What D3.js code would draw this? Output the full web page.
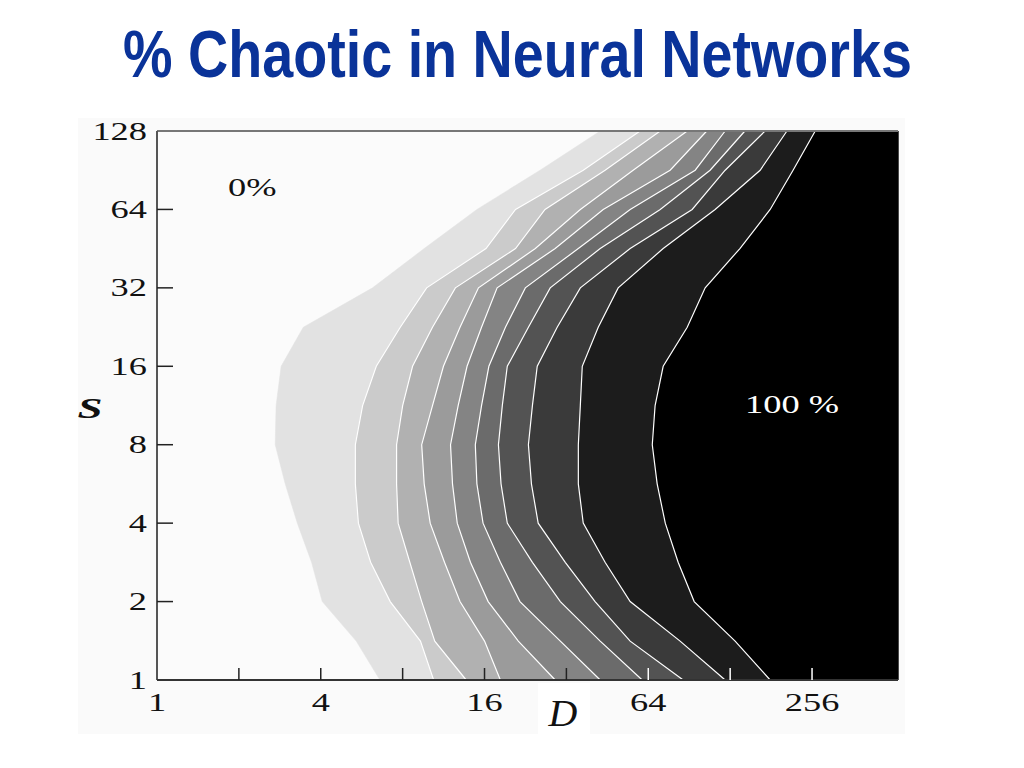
<!DOCTYPE html>
<html><head><meta charset="utf-8">
<script src="https://cdn.jsdelivr.net/npm/d3@7"></script>
<style>body{margin:0;background:#fff}</style>
</head><body>
<svg id="c" width="1024" height="768"></svg>
<script>
const title = "% Chaotic in Neural Networks";
// S values along which each contour's D position is read
const sLevels = [1, 1.41, 2, 2.83, 4, 5.66, 8, 11.3, 16, 22.6, 32, 45.3, 64, 90.5, 128];
// D position of each contour (10% .. 100% chaotic) at the S values above
const level10  = [6.6, 5.4, 4.05, 3.7, 3.28, 2.96, 2.72, 2.74, 2.86, 3.45, 6.2, 9.6, 15.0, 25.6, 42.6];
const level20  = [10.4, 9.3, 7.2, 6.1, 5.5, 5.36, 5.36, 5.7, 6.4, 7.84, 9.8, 16.2, 20.8, 36.9, 59.7];
const level30  = [13.7, 10.5, 9.4, 8.5, 7.7, 7.6, 7.6, 8.0, 8.7, 10.3, 12.5, 20.8, 26.7, 44.4, 70.8];
const level40  = [18.3, 16.0, 13.0, 11.4, 10.1, 9.6, 9.4, 10.3, 11.3, 13.0, 15.2, 24.6, 36.0, 56.3, 89.0];
const level50  = [29.1, 21.3, 16.5, 14.2, 12.7, 12.2, 12.0, 12.8, 13.8, 15.6, 17.8, 29.1, 43.7, 77.0, 105];
const level60  = [42.6, 30.4, 21.6, 18.3, 15.8, 15.0, 14.8, 15.6, 16.6, 19.1, 22.6, 35.4, 54.9, 95.2, 122.7];
const level70  = [60.8, 42.6, 30.4, 24.0, 19.4, 18.4, 18.0, 18.6, 19.4, 23.2, 27.9, 42.6, 70.8, 108, 145];
const level80  = [86.0, 54.9, 40.8, 31.7, 25.2, 23.8, 23.2, 24.0, 25.0, 29.6, 36.0, 54.9, 92.8, 122.7, 172];
const level90  = [122.7, 83.8, 54.9, 44.4, 36.9, 35.4, 35.4, 36.0, 36.6, 41.9, 49.6, 72.6, 112.7, 165, 207];
const level100 = [179.6, 133.5, 94.4, 82.4, 73.9, 69.0, 66.2, 67.8, 72.6, 89.0, 103.6, 139, 179.6, 218, 263];
const levels = [level10, level20, level30, level40, level50, level60, level70, level80, level90, level100];
const dTicks = [2, 4, 8, 16, 32, 64, 128, 256];
const dTickLabels = [1, 4, 16, 64, 256];
const sTicks = [2, 4, 8, 16, 32, 64];
const sTickLabels = [1, 2, 4, 8, 16, 32, 64, 128];
const regionLabels = ["0%", "100 %"];

const bandFills = ["#e2e2e2", "#cbcbcb", "#b1b1b1", "#9b9b9b", "#848484", "#6b6b6b", "#535353", "#3a3a3a", "#1c1c1c", "#000000"];

const svg = d3.select("#c");
const x = d3.scaleLog().base(2).domain([1, 530]).range([157, 898]);
const y = d3.scaleLog().base(2).domain([1, 128]).range([680, 131]);
const [x0, x1] = x.range();
const [yB, yT] = y.range();

// title, fitted to the reference width with a horizontal scale
const titleEl = svg.append("text")
  .attr("text-anchor", "middle")
  .attr("font-family", "Liberation Sans, Arial, sans-serif").attr("font-weight", "bold")
  .attr("font-size", 66).attr("fill", "#0a3399").text(title);
const natW = titleEl.node().getComputedTextLength();
titleEl.attr("transform", `translate(517.5,77) scale(${789 / natW},1)`);

// chart image background
svg.append("rect").attr("x", 78).attr("y", 118).attr("width", 827).attr("height", 616).attr("fill", "#fafafa");
svg.append("rect").attr("x", 538).attr("y", 683).attr("width", 52).attr("height", 51).attr("fill", "#ffffff");

// plot background (0%)
svg.append("rect").attr("x", x0).attr("y", yT).attr("width", x1 - x0).attr("height", yB - yT).attr("fill", "#fbfbfb");

const area = d3.area().curve(d3.curveLinear)
  .y((d, i) => y(sLevels[i]))
  .x0(d => x(d))
  .x1(x1);
const line = d3.line().curve(d3.curveLinear)
  .x(d => x(d)).y((d, i) => y(sLevels[i]));

const plot = svg.append("g");
levels.forEach((lv, k) => {
  plot.append("path").attr("d", area(lv)).attr("fill", bandFills[k]).attr("stroke", bandFills[k]).attr("stroke-width", 0.5);
});
levels.forEach((lv, k) => {
  if (k === 0) return;
  plot.append("path").attr("d", line(lv)).attr("fill", "none").attr("stroke", "#ffffff").attr("stroke-width", 1.2);
});

// frame / axes
svg.append("line").attr("x1", x0).attr("x2", x1).attr("y1", yT).attr("y2", yT).attr("stroke", "#777").attr("stroke-width", 2);
svg.append("line").attr("x1", x0).attr("x2", x0).attr("y1", yT).attr("y2", yB).attr("stroke", "#555").attr("stroke-width", 2);
svg.append("line").attr("x1", x0).attr("x2", x1).attr("y1", yB).attr("y2", yB).attr("stroke", "#333").attr("stroke-width", 2);

// x ticks (colour chosen for contrast with the band under it at S=1)
dTicks.forEach(t => {
  const nDarker = levels.filter(lv => lv[0] < t).length;
  svg.append("line").attr("x1", x(t)).attr("x2", x(t)).attr("y1", yB).attr("y2", yB - 12)
    .attr("stroke", nDarker >= 6 ? "#ffffff" : "#222").attr("stroke-width", 1.5);
});
sTicks.forEach(t => {
  svg.append("line").attr("x1", x0).attr("x2", x0 + 16).attr("y1", y(t)).attr("y2", y(t))
    .attr("stroke", "#222").attr("stroke-width", 1.5);
});

function sText(px, py, str, anchor, size, sx, opts = {}) {
  return svg.append("text")
    .attr("transform", `translate(${px},${py}) scale(${sx},1)`)
    .attr("text-anchor", anchor)
    .attr("font-family", "Liberation Serif, Times New Roman, serif")
    .attr("font-size", size)
    .attr("font-style", opts.italic ? "italic" : "normal")
    .attr("font-weight", opts.bold ? "bold" : "normal")
    .attr("fill", opts.fill || "#111")
    .text(str);
}

sTickLabels.forEach(t => sText(147, y(t) + 8.5, String(t), "end", 26, 1.4));
dTickLabels.forEach(t => sText(x(t), 711, String(t), "middle", 26, 1.4));

sText(228, 196, regionLabels[0], "start", 26, 1.4);
sText(745, 413, regionLabels[1], "start", 26, 1.4, { fill: "#ffffff" });

sText(90, 418, "S", "middle", 30, 1.5, { italic: true, bold: true });
sText(563, 726, "D", "middle", 38, 1.05, { italic: true });
</script>
</body></html>
